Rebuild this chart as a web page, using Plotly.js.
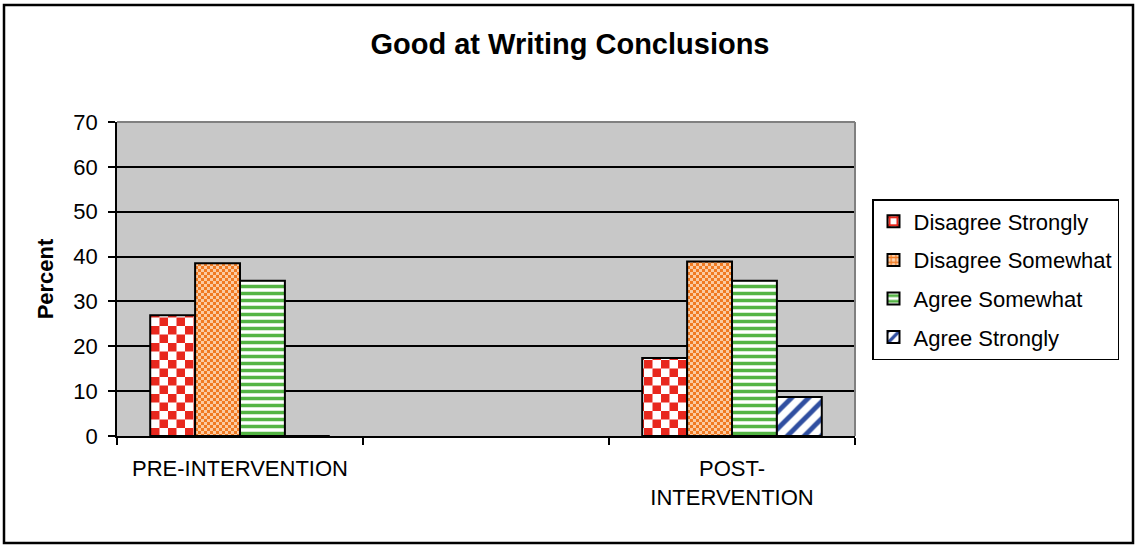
<!DOCTYPE html>
<html>
<head>
<meta charset="utf-8">
<script src="https://cdn.plot.ly/plotly-3.0.1.min.js"></script>
<style>
  html, body { margin: 0; padding: 0; background: #ffffff; }
  #chart { width: 1136px; height: 550px; }
</style>
</head>
<body>
<div id="chart"></div>
<script>
// ---- data ----
const categories = ['PRE-INTERVENTION', ' ', 'POST-<br>INTERVENTION'];
const seriesNames = ['Disagree Strongly', 'Disagree Somewhat', 'Agree Somewhat', 'Agree Strongly'];
const disagreeStrongly = [26.9, null, 17.4];
const disagreeSomewhat = [38.5, null, 38.9];
const agreeSomewhat = [34.6, null, 34.6];
const agreeStrongly = [0, null, 8.7];
const yTicks = [0, 10, 20, 30, 40, 50, 60, 70];

const FONT = 'Liberation Sans, Arial, sans-serif';

const seriesValues = [disagreeStrongly, disagreeSomewhat, agreeSomewhat, agreeStrongly];
const patterns = [
  {shape: '+', fgcolor: '#e8281e', bgcolor: '#ffffff', size: 14, solidity: 0.45},
  {shape: '+', fgcolor: '#f07a22', bgcolor: '#fbd2ae', size: 6, solidity: 0.45},
  {shape: '-', fgcolor: '#54b444', bgcolor: '#ffffff', size: 7, solidity: 0.5},
  {shape: '/', fgcolor: '#2f4ea0', bgcolor: '#ffffff', size: 12, solidity: 0.4}
];
// checkerboard styling applied to the generated pattern tiles (cell size, colours)
const checkers = {
  0: {cell: 8.5, a: '#e8281e', b: '#ffffff'},
  1: {cell: 3, a: '#f07a22', b: '#fbcba2'}
};

const traces = seriesNames.map((name, i) => ({
  type: 'bar',
  name: name,
  x: categories,
  y: seriesValues[i],
  legendgroup: 'g' + i,
  marker: {
    color: patterns[i].bgcolor,
    pattern: Object.assign({fillmode: 'replace'}, patterns[i]),
    line: {color: '#000000', width: 2}
  },
  hoverinfo: 'x+y+name'
}));

const L = 117, R = 855, T = 122, B = 436, W = 1136, H = 550;
const pw = R - L, ph = B - T;
const px = v => (v - L) / pw;
const py = v => (B - v) / ph;

const layout = {
  width: W, height: H,
  margin: {l: L, r: W - R, t: T, b: H - B, pad: 0},
  paper_bgcolor: '#ffffff',
  plot_bgcolor: '#c8c8c8',
  font: {family: FONT, size: 22, color: '#000000'},
  title: {
    text: 'Good at Writing Conclusions',
    font: {family: FONT, size: 29, color: '#000000', weight: 'bold'},
    x: 570 / W, xref: 'container', xanchor: 'center',
    y: 1 - 44 / H, yref: 'container', yanchor: 'middle'
  },
  barmode: 'group',
  bargap: 0.27,
  bargroupgap: 0,
  xaxis: {
    type: 'category',
    categoryorder: 'array',
    categoryarray: categories,
    range: [-0.5, 2.5],
    tickson: 'boundaries',
    ticks: 'outside', ticklen: 7, tickwidth: 1.5, tickcolor: '#000000',
    showline: true, linecolor: '#000000', linewidth: 1.5,
    showgrid: false,
    tickfont: {family: FONT, size: 22, color: '#000000'},
    ticklabelstandoff: 12,
    fixedrange: true
  },
  yaxis: {
    range: [0, 70],
    tickmode: 'array', tickvals: yTicks, ticktext: yTicks.map(String),
    ticks: 'outside', ticklen: 7, tickwidth: 1.5, tickcolor: '#000000',
    showline: true, linecolor: '#000000', linewidth: 1.5,
    showgrid: true, gridcolor: '#000000', gridwidth: 1.5,
    zeroline: false,
    tickfont: {family: FONT, size: 22, color: '#000000'},
    ticklabelstandoff: 6,
    title: {text: 'Percent', font: {family: FONT, size: 22, color: '#000000', weight: 'bold'}, standoff: 14},
    fixedrange: true
  },
  legend: {
    x: px(872), y: py(199), xanchor: 'left', yanchor: 'top',
    bgcolor: '#ffffff', bordercolor: '#000000', borderwidth: 1.5,
    font: {family: FONT, size: 22, color: '#000000'},
    tracegroupgap: 7,
    traceorder: 'grouped'
  },
  shapes: [
    {type: 'line', xref: 'paper', yref: 'paper', x0: 0, x1: 1, y0: 1, y1: 1, line: {color: '#808080', width: 2}, layer: 'above'},
    {type: 'line', xref: 'paper', yref: 'paper', x0: 1, x1: 1, y0: 0, y1: 1, line: {color: '#808080', width: 2}, layer: 'above'},
    {type: 'rect', xref: 'paper', yref: 'paper', x0: px(4), x1: px(1133), y0: py(543), y1: py(5), line: {color: '#000000', width: 2.5}, layer: 'above'}
  ],
  showlegend: true
};

function applyCheckers(gd) {
  try {
    const NS = 'http://www.w3.org/2000/svg';
    const bars = gd.querySelectorAll('.barlayer .trace');
    Object.keys(checkers).forEach(k => {
      const tr = bars[+k];
      if (!tr) return;
      const c = checkers[k];
      const ids = new Set();
      tr.querySelectorAll('path').forEach(p => {
        const f = p.style.fill || p.getAttribute('fill') || '';
        const m = f.match(/url\(["']?#([^"')]+)["']?\)/);
        if (m) ids.add(m[1]);
      });
      ids.forEach(id => {
        const pat = gd.querySelector('pattern[id="' + id + '"]') || document.getElementById(id);
        if (!pat) return;
        const s = 2 * c.cell;
        pat.setAttribute('width', s);
        pat.setAttribute('height', s);
        pat.setAttribute('patternUnits', 'userSpaceOnUse');
        pat.removeAttribute('viewBox');
        while (pat.firstChild) pat.removeChild(pat.firstChild);
        const mk = (x, y, w, h, col) => {
          const r = document.createElementNS(NS, 'rect');
          r.setAttribute('x', x); r.setAttribute('y', y);
          r.setAttribute('width', w); r.setAttribute('height', h);
          r.setAttribute('fill', col);
          pat.appendChild(r);
        };
        mk(0, 0, s, s, c.b);
        mk(0, 0, c.cell, c.cell, c.a);
        mk(c.cell, c.cell, c.cell, c.cell, c.a);
      });
    });
  } catch (e) { /* keep Plotly's own pattern */ }
}

Plotly.newPlot('chart', traces, layout, {displayModeBar: false, responsive: false})
  .then(gd => applyCheckers(gd));
</script>
</body>
</html>
